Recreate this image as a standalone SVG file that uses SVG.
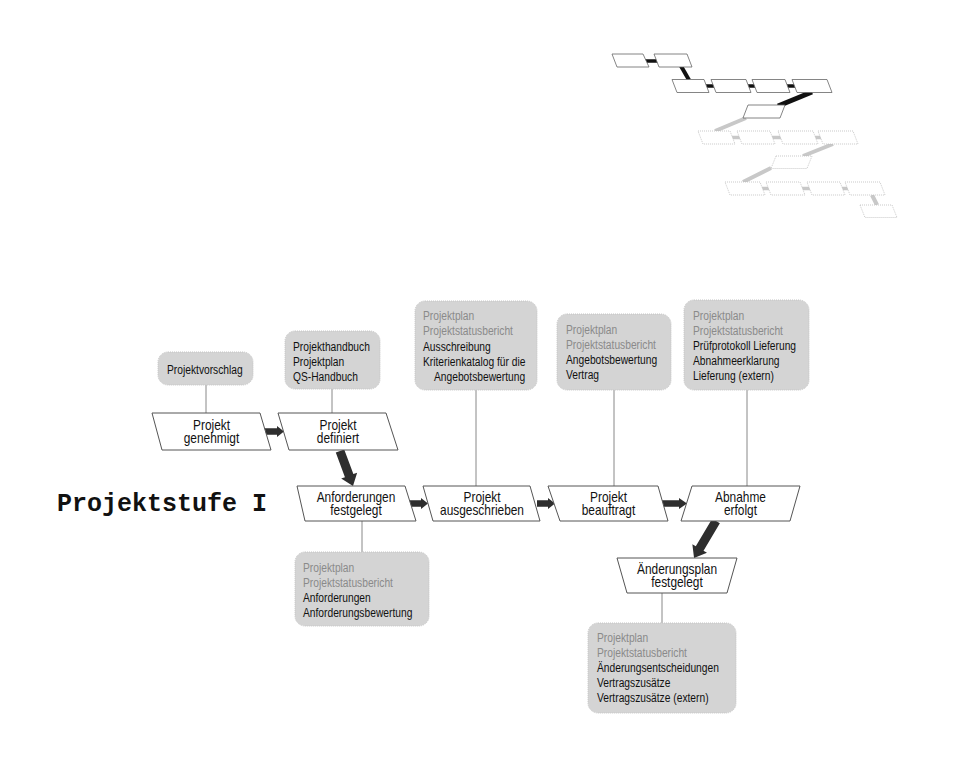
<svg xmlns="http://www.w3.org/2000/svg" width="960" height="768" viewBox="0 0 960 768">
<style>
.box{fill:#d4d4d4;stroke:#c4c4c4;stroke-width:1;stroke-dasharray:1 1}
.node{fill:#fff;stroke:#555;stroke-width:1}
.bt{font-family:"Liberation Sans",Arial,sans-serif;font-size:12.5px;fill:#111}
.g{fill:#8a8a8a}
.nt{font-family:"Liberation Sans",Arial,sans-serif;font-size:14px;fill:#111;text-anchor:middle}
.ln{stroke:#888;stroke-width:1;fill:none}
.arr{fill:#2e2e2e}
.ms{fill:#fff;stroke:#666;stroke-width:0.8}
.msg{fill:#fff;stroke:#bbb;stroke-width:0.8;stroke-dasharray:1 1}
.mc{stroke:#111;stroke-width:3.5}
.mcg{stroke:#c8c8c8;stroke-width:3.5}
.title{font-family:"Liberation Mono","Courier New",monospace;font-size:25px;font-weight:bold;fill:#111}
</style>

<g id="mini-map">
  <line class="mc" x1="645" y1="61" x2="658" y2="61"/>
  <line class="mc" x1="681" y1="66" x2="689" y2="80" style="stroke-width:4"/>
  <line class="mc" x1="705" y1="86" x2="714" y2="86"/>
  <line class="mc" x1="748" y1="86" x2="757" y2="86"/>
  <line class="mc" x1="787" y1="86" x2="796" y2="86"/>
  <line class="mc" x1="812" y1="92" x2="778" y2="106" style="stroke-width:5"/>
  <line class="mcg" x1="746" y1="118" x2="715" y2="131" style="stroke-width:4"/>
  <line class="mcg" x1="732" y1="137.5" x2="741" y2="137.5"/>
  <line class="mcg" x1="772" y1="137.5" x2="782" y2="137.5"/>
  <line class="mcg" x1="815" y1="137.5" x2="823" y2="137.5"/>
  <line class="mcg" x1="833" y1="144" x2="803" y2="156" style="stroke-width:4"/>
  <line class="mcg" x1="771" y1="168" x2="743" y2="182" style="stroke-width:4"/>
  <line class="mcg" x1="762" y1="188.5" x2="770" y2="188.5"/>
  <line class="mcg" x1="802" y1="188.5" x2="811" y2="188.5"/>
  <line class="mcg" x1="842" y1="188.5" x2="849" y2="188.5"/>
  <line class="mcg" x1="872" y1="195" x2="877" y2="205" style="stroke-width:4"/>

  <polygon class="ms" points="612,54 643,54 649,67 617,67"/>
  <polygon class="ms" points="654,54 687,54 692,67 659,67"/>
  <polygon class="ms" points="672,79.5 704,79.5 709,92.5 677,92.5"/>
  <polygon class="ms" points="711,79.5 746,79.5 751,92.5 716,92.5"/>
  <polygon class="ms" points="752,79.5 785,79.5 790,92.5 757,92.5"/>
  <polygon class="ms" points="792,79.5 827,79.5 832,92.5 797,92.5"/>
  <polygon class="ms" points="748,105 785,105 780,118 743,118"/>
  <polygon class="msg" points="698,131 730,131 735,144 703,144"/>
  <polygon class="msg" points="737,131 770,131 775,144 742,144"/>
  <polygon class="msg" points="778,131 813,131 818,144 783,144"/>
  <polygon class="msg" points="818,131 853,131 858,144 823,144"/>
  <polygon class="msg" points="776,156 812,156 807,168.5 771,168.5"/>
  <polygon class="msg" points="725,182 760,182 765,195 730,195"/>
  <polygon class="msg" points="766,182 800,182 805,195 771,195"/>
  <polygon class="msg" points="807,182 840,182 845,195 812,195"/>
  <polygon class="msg" points="845,182 880,182 885,195 850,195"/>
  <polygon class="msg" points="860,205 892,205 897,217.5 865,217.5"/>
</g>

<text class="title" x="57" y="511">Projektstufe I</text>

<g id="connectors">
  <line class="ln" x1="206" y1="385" x2="206" y2="413"/>
  <line class="ln" x1="332" y1="389" x2="332" y2="413"/>
  <line class="ln" x1="476" y1="390" x2="476" y2="486"/>
  <line class="ln" x1="614" y1="390" x2="614" y2="486"/>
  <line class="ln" x1="747" y1="390" x2="747" y2="486"/>
  <line class="ln" x1="362" y1="521" x2="362" y2="552"/>
  <line class="ln" x1="662" y1="593" x2="662" y2="623"/>
  <path class="arr" d="M264,428.3 L277,428.3 L277,426 L284,431.5 L277,437 L277,434.7 L264,434.7 Z"/>
  <path class="arr" d="M409,500.3 L421,500.3 L421,498 L428,503.5 L421,509 L421,506.7 L409,506.7 Z"/>
  <path class="arr" d="M537,500.3 L548,500.3 L548,498 L555,503.5 L548,509 L548,506.7 L537,506.7 Z"/>
  <path class="arr" d="M662,500.3 L679,500.3 L679,498 L687,503.5 L679,509 L679,506.7 L662,506.7 Z"/>
  <path class="arr" d="M0,-4.5 L26.3,-4.5 L26.3,-8.5 L37.3,0 L26.3,8.5 L26.3,4.5 L0,4.5 Z" transform="translate(340,451) rotate(69.6)"/>
  <path class="arr" d="M0,-4.5 L32,-4.5 L32,-8.5 L43,0 L32,8.5 L32,4.5 L0,4.5 Z" transform="translate(716,521) rotate(120.7)"/>
</g>

<g id="doc-projektvorschlag">
  <rect class="box" x="158" y="352" width="95" height="33" rx="10"/>
  <text class="bt" transform="translate(167,374) scale(0.82 1)">Projektvorschlag</text>
</g>
<g id="doc-definiert">
  <rect class="box" x="285" y="331" width="95" height="58" rx="10"/>
  <text class="bt" transform="translate(293,351) scale(0.82 1)">Projekthandbuch</text>
  <text class="bt" transform="translate(293,366) scale(0.82 1)">Projektplan</text>
  <text class="bt" transform="translate(293,381) scale(0.82 1)">QS-Handbuch</text>
</g>
<g id="doc-ausgeschrieben">
  <rect class="box" x="415" y="301" width="122" height="89" rx="10"/>
  <text class="bt g" transform="translate(423,320) scale(0.82 1)">Projektplan</text>
  <text class="bt g" transform="translate(423,335) scale(0.82 1)">Projektstatusbericht</text>
  <text class="bt" transform="translate(423,351) scale(0.82 1)">Ausschreibung</text>
  <text class="bt" transform="translate(423,366) scale(0.82 1)">Kriterienkatalog für die</text>
  <text class="bt" transform="translate(434,381) scale(0.82 1)">Angebotsbewertung</text>
</g>
<g id="doc-beauftragt">
  <rect class="box" x="557" y="314" width="114" height="76" rx="10"/>
  <text class="bt g" transform="translate(566,334) scale(0.82 1)">Projektplan</text>
  <text class="bt g" transform="translate(566,349) scale(0.82 1)">Projektstatusbericht</text>
  <text class="bt" transform="translate(566,364) scale(0.82 1)">Angebotsbewertung</text>
  <text class="bt" transform="translate(566,379) scale(0.82 1)">Vertrag</text>
</g>
<g id="doc-abnahme">
  <rect class="box" x="684" y="300" width="125" height="90" rx="10"/>
  <text class="bt g" transform="translate(693,320) scale(0.82 1)">Projektplan</text>
  <text class="bt g" transform="translate(693,335) scale(0.82 1)">Projektstatusbericht</text>
  <text class="bt" transform="translate(693,350) scale(0.82 1)">Prüfprotokoll Lieferung</text>
  <text class="bt" transform="translate(693,365) scale(0.82 1)">Abnahmeerklarung</text>
  <text class="bt" transform="translate(693,380) scale(0.82 1)">Lieferung (extern)</text>
</g>
<g id="doc-anforderungen">
  <rect class="box" x="295" y="552" width="134" height="74" rx="10"/>
  <text class="bt g" transform="translate(303,572) scale(0.82 1)">Projektplan</text>
  <text class="bt g" transform="translate(303,587) scale(0.82 1)">Projektstatusbericht</text>
  <text class="bt" transform="translate(303,602) scale(0.82 1)">Anforderungen</text>
  <text class="bt" transform="translate(303,617) scale(0.82 1)">Anforderungsbewertung</text>
</g>
<g id="doc-aenderung">
  <rect class="box" x="588" y="623" width="148" height="90" rx="10"/>
  <text class="bt g" transform="translate(597,642) scale(0.82 1)">Projektplan</text>
  <text class="bt g" transform="translate(597,657) scale(0.82 1)">Projektstatusbericht</text>
  <text class="bt" transform="translate(597,672) scale(0.82 1)">Änderungsentscheidungen</text>
  <text class="bt" transform="translate(597,687) scale(0.82 1)">Vertragszusätze</text>
  <text class="bt" transform="translate(597,702) scale(0.82 1)">Vertragszusätze (extern)</text>
</g>

<g id="node-genehmigt">
  <polygon class="node" points="152,413 260,413 271,450 162,450"/>
  <text class="nt" transform="translate(211.5,429.5) scale(0.85 1)">Projekt</text>
  <text class="nt" transform="translate(211.5,442.5) scale(0.85 1)">genehmigt</text>
</g>
<g id="node-definiert">
  <polygon class="node" points="278,413 386,413 398,450 289,450"/>
  <text class="nt" transform="translate(338,429.5) scale(0.85 1)">Projekt</text>
  <text class="nt" transform="translate(338,442.5) scale(0.85 1)">definiert</text>
</g>
<g id="node-anforderungen">
  <polygon class="node" points="297,486 405,486 416,521 305,521"/>
  <text class="nt" transform="translate(356,502) scale(0.85 1)">Anforderungen</text>
  <text class="nt" transform="translate(356,515) scale(0.85 1)">festgelegt</text>
</g>
<g id="node-ausgeschrieben">
  <polygon class="node" points="423,486 530,486 540,521 433,521"/>
  <text class="nt" transform="translate(482,502) scale(0.85 1)">Projekt</text>
  <text class="nt" transform="translate(482,515) scale(0.85 1)">ausgeschrieben</text>
</g>
<g id="node-beauftragt">
  <polygon class="node" points="548,486 658,486 668,521 560,521"/>
  <text class="nt" transform="translate(608.5,502) scale(0.85 1)">Projekt</text>
  <text class="nt" transform="translate(608.5,515) scale(0.85 1)">beauftragt</text>
</g>
<g id="node-abnahme">
  <polygon class="node" points="692,486 800,486 790,521 681,521"/>
  <text class="nt" transform="translate(740.5,502) scale(0.85 1)">Abnahme</text>
  <text class="nt" transform="translate(740.5,515) scale(0.85 1)">erfolgt</text>
</g>
<g id="node-aenderungsplan">
  <polygon class="node" points="617,558 737,558 727,593 627,593"/>
  <text class="nt" transform="translate(677,574) scale(0.85 1)">Änderungsplan</text>
  <text class="nt" transform="translate(677,587) scale(0.85 1)">festgelegt</text>
</g>
</svg>
